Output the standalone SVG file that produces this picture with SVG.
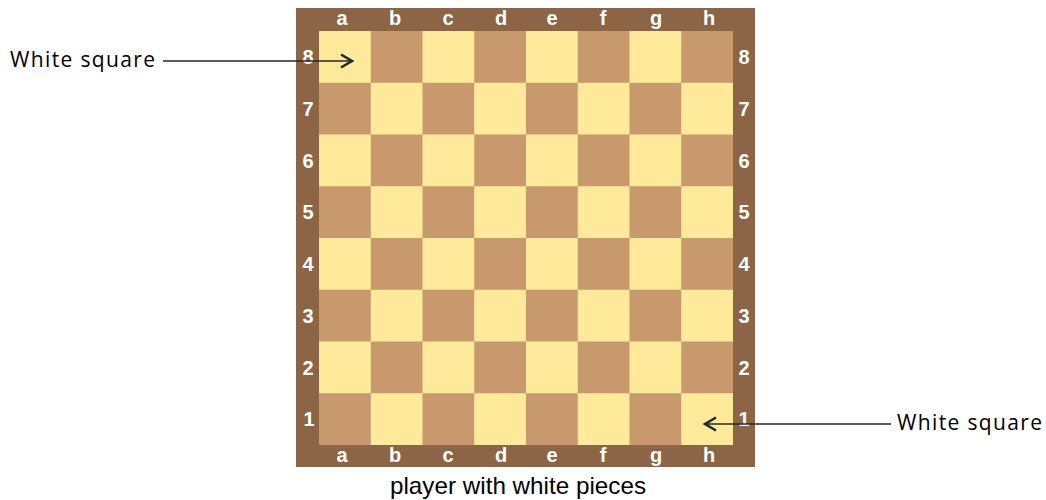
<svg xmlns="http://www.w3.org/2000/svg" width="1046" height="500" viewBox="0 0 1046 500">
<style>
.frame{fill:#8c6446}
.coord{font-family:"Liberation Sans",Arial,sans-serif;font-weight:bold;font-size:20px;fill:#ffffff;text-anchor:middle}
.lbl{font-family:"Open Sans","DejaVu Sans",sans-serif;font-size:21px;fill:#000}
.cap{font-family:"Liberation Sans",Arial,sans-serif;font-size:24px;fill:#000;text-anchor:middle}
.conn{stroke:#262626;stroke-width:1.6;fill:none}
</style>
<defs>
<marker id="chev" markerWidth="18" markerHeight="18" refX="13" refY="8.5" orient="auto" markerUnits="userSpaceOnUse">
<path d="M2,2 L13,8.5 L2,15" fill="none" stroke="#262626" stroke-width="2.6"/>
</marker>
<pattern id="board" x="319" y="31" width="103.5" height="103.5" patternUnits="userSpaceOnUse">
<rect width="103.5" height="103.5" fill="#feea9a"/>
<rect x="51.75" y="0" width="51.75" height="51.75" fill="#c8996c"/>
<rect x="0" y="51.75" width="51.75" height="51.75" fill="#c8996c"/>
</pattern>
</defs>
<g id="board-node">
<rect class="frame" x="296" y="8" width="459" height="459"/>
<rect x="319" y="31" width="414" height="414" fill="url(#board)"/>
</g>
<g id="files-top">
<text class="coord" x="342" y="25">a</text>
<text class="coord" x="395" y="25">b</text>
<text class="coord" x="448" y="25">c</text>
<text class="coord" x="501" y="25">d</text>
<text class="coord" x="552" y="25">e</text>
<text class="coord" x="603" y="25">f</text>
<text class="coord" x="656" y="25">g</text>
<text class="coord" x="709" y="25">h</text>
</g>
<g id="files-bottom">
<text class="coord" x="342" y="462">a</text>
<text class="coord" x="395" y="462">b</text>
<text class="coord" x="448" y="462">c</text>
<text class="coord" x="501" y="462">d</text>
<text class="coord" x="552" y="462">e</text>
<text class="coord" x="603" y="462">f</text>
<text class="coord" x="656" y="462">g</text>
<text class="coord" x="709" y="462">h</text>
</g>
<g id="ranks-left">
<text class="coord" x="308" y="64">8</text>
<text class="coord" x="308" y="116">7</text>
<text class="coord" x="308" y="168">6</text>
<text class="coord" x="308" y="219">5</text>
<text class="coord" x="308" y="271">4</text>
<text class="coord" x="308" y="323">3</text>
<text class="coord" x="308" y="375">2</text>
<text class="coord" x="309" y="426">1</text>
</g>
<g id="ranks-right">
<text class="coord" x="744" y="64">8</text>
<text class="coord" x="744" y="116">7</text>
<text class="coord" x="744" y="168">6</text>
<text class="coord" x="744" y="219">5</text>
<text class="coord" x="744" y="271">4</text>
<text class="coord" x="744" y="323">3</text>
<text class="coord" x="744" y="375">2</text>
<text class="coord" x="744" y="426">1</text>
</g>
<g id="label-left">
<text class="lbl" x="10" y="67" textLength="145" lengthAdjust="spacing">White square</text>
</g>
<g id="label-right">
<text class="lbl" x="897" y="430" textLength="145" lengthAdjust="spacing">White square</text>
</g>
<g id="caption">
<text class="cap" x="518" y="494" textLength="256" lengthAdjust="spacingAndGlyphs">player with white pieces</text>
</g>
<g id="connectors">
<line class="conn" x1="163" y1="61" x2="352" y2="61" marker-end="url(#chev)"/>
<line class="conn" x1="891" y1="424" x2="705" y2="424" marker-end="url(#chev)"/>
</g>
</svg>
